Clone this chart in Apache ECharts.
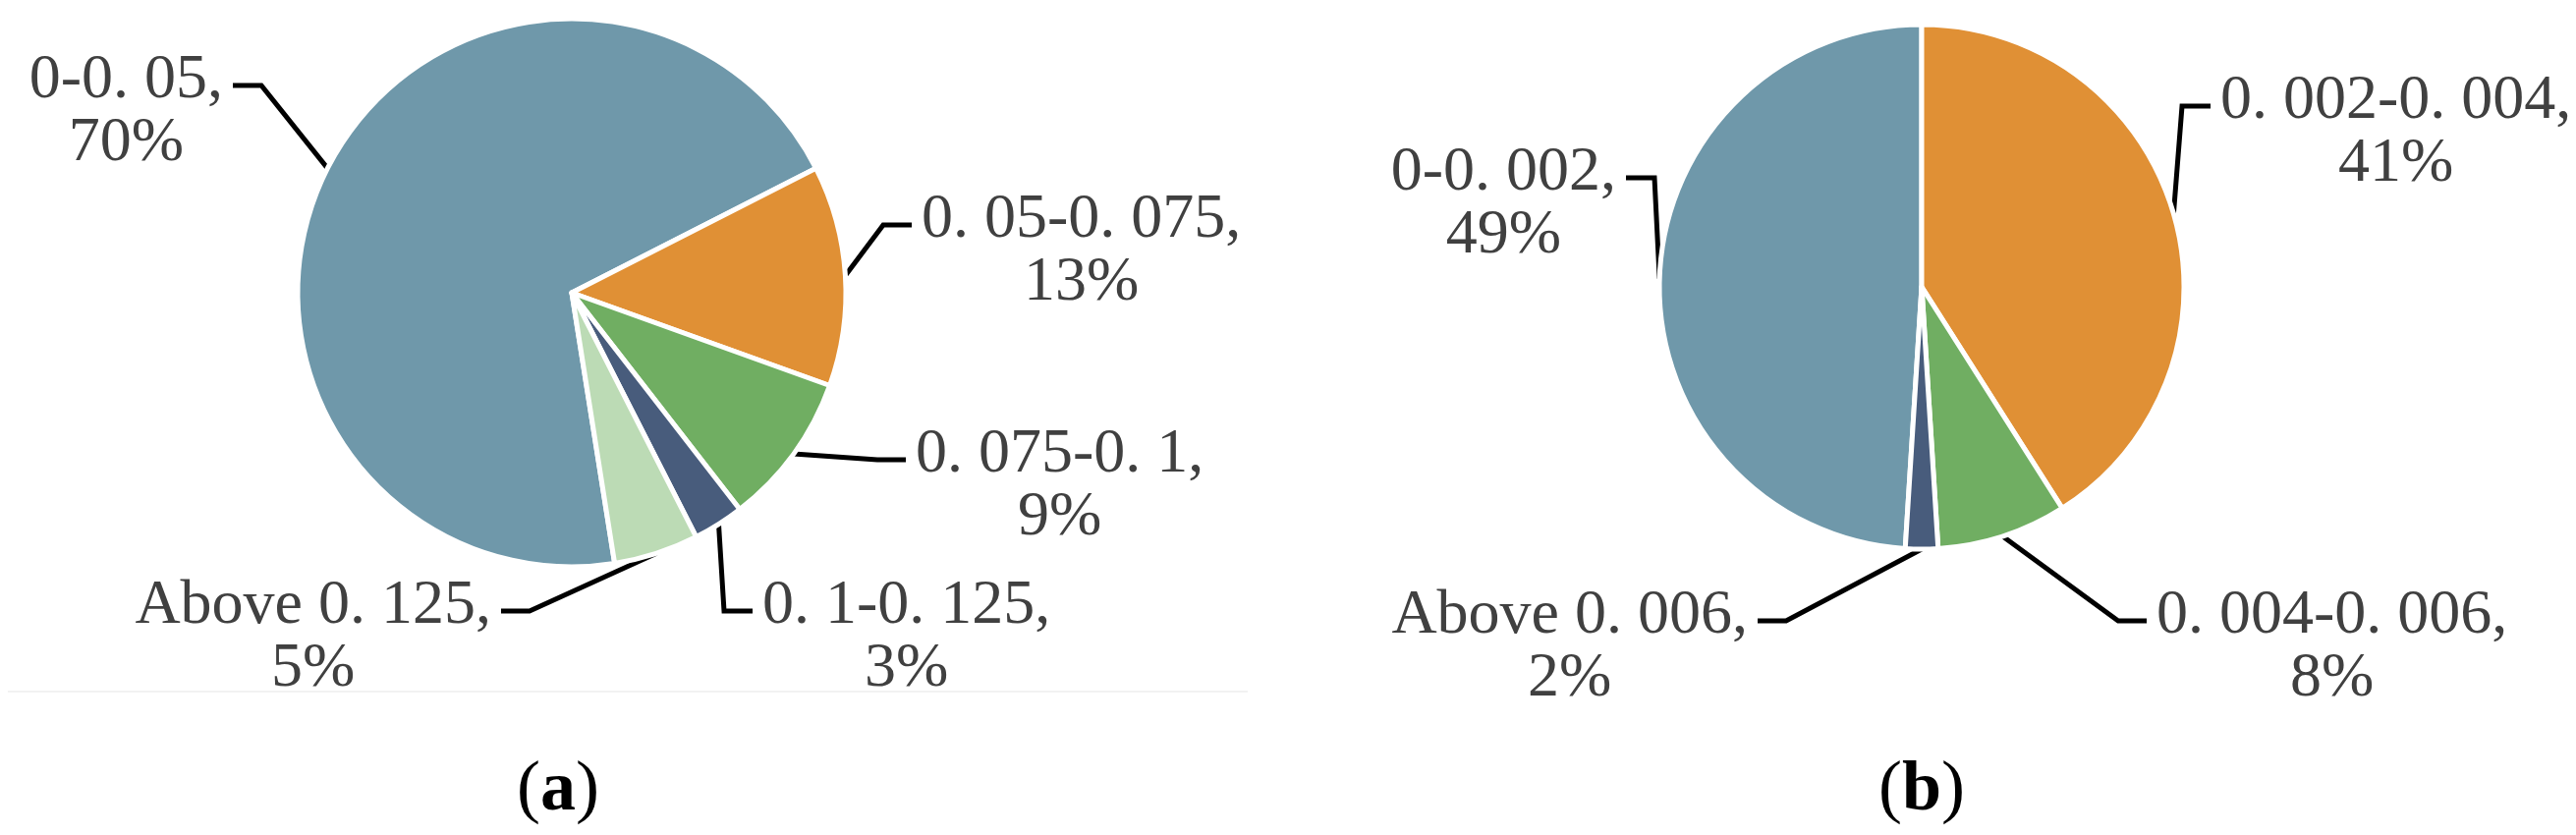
<!DOCTYPE html>
<html>
<head>
<meta charset="utf-8">
<script src="https://cdn.jsdelivr.net/npm/echarts@6/dist/echarts.min.js"></script>
<style>
  html, body { margin: 0; padding: 0; background: #fff; }
  #chart { width: 2622px; height: 850px; }
</style>
</head>
<body>
<div id="chart"></div>
<script>
// (a) share of each range
const categoriesA = ['0-0.05', '0.05-0.075', '0.075-0.1', '0.1-0.125', 'Above 0.125']
const valuesA = [70, 13, 9, 3, 5]

// (b) share of each range
const categoriesB = ['0-0.002', '0.002-0.004', '0.004-0.006', 'Above 0.006']
const valuesB = [49, 41, 8, 2]

const panelNames = ['a', 'b']

const colors = ['#6f98aa', '#e09035', '#70ae62', '#485c7c', '#bcdbb5']

// point where each leader line reaches its label (labels were placed by hand in the original)
const labelPosA = [[237, 87], [928, 229], [922, 468], [766, 622], [510, 622]]
const labelPosB = [[1655, 181], [2250, 108], [2185, 632], [1789, 632]]

const FONT = "'Liberation Serif', 'Times New Roman', serif"
const FONT_SIZE = 64
const LINE_H = 64
const ELBOW = 29
const GAP = 10

function placeLabels(pos, cx) {
  return function (params) {
    const p = pos[params.dataIndex]
    const left = p[0] < cx
    const pts = params.labelLinePoints
    const start = pts ? pts[0] : p
    return {
      x: left ? p[0] - GAP : p[0] + GAP,
      y: p[1] - 5 - LINE_H / 2,
      align: left ? 'right' : 'left',
      verticalAlign: 'top',
      labelLinePoints: [start, [p[0] + (left ? ELBOW : -ELBOW), p[1]], p]
    }
  }
}

// the source font leaves a gap after each decimal point
function labelText(p) {
  return '{n|' + p.name.replace(/\./g, '. ') + ',}\n{p|' + p.percent + '%}'
}

function pieSeries(names, values, center, radius, startAngle, pos) {
  const tok = { align: 'center', fontFamily: FONT, fontSize: FONT_SIZE, lineHeight: LINE_H, color: '#404040' }
  return {
    type: 'pie',
    center: center,
    radius: radius,
    startAngle: startAngle,
    clockwise: true,
    avoidLabelOverlap: false,
    animation: false,
    itemStyle: { borderColor: '#fff', borderWidth: 5 },
    label: {
      show: true,
      formatter: labelText,
      rich: { n: tok, p: tok }
    },
    labelLine: { show: true, lineStyle: { color: '#000', width: 5 } },
    labelLayout: placeLabels(pos, center[0]),
    emphasis: { disabled: true },
    data: names.map((name, i) => ({ name: name, value: values[i] }))
  }
}

function panelTitle(name, x) {
  return {
    type: 'text',
    x: x,
    y: 805,
    style: {
      text: '{p|(}{l|' + name + '}{p|)}',
      align: 'center',
      verticalAlign: 'middle',
      rich: {
        p: { fontFamily: FONT, fontSize: 72, fill: '#000' },
        l: { fontFamily: FONT, fontSize: 72, fontWeight: 'bold', fill: '#000' }
      }
    }
  }
}

const chart = echarts.init(document.getElementById('chart'))

chart.setOption({
  backgroundColor: '#fff',
  color: colors,
  series: [
    pieSeries(categoriesA, valuesA, [582, 298], 279, 279, labelPosA),
    pieSeries(categoriesB, valuesB, [1956, 292], 267, 266.4, labelPosB)
  ],
  graphic: [
    {
      type: 'line',
      shape: { x1: 8, y1: 704, x2: 1270, y2: 704 },
      style: { stroke: '#f2f2f2', lineWidth: 2 }
    },
    panelTitle(panelNames[0], 568),
    panelTitle(panelNames[1], 1956)
  ]
})
</script>
</body>
</html>
